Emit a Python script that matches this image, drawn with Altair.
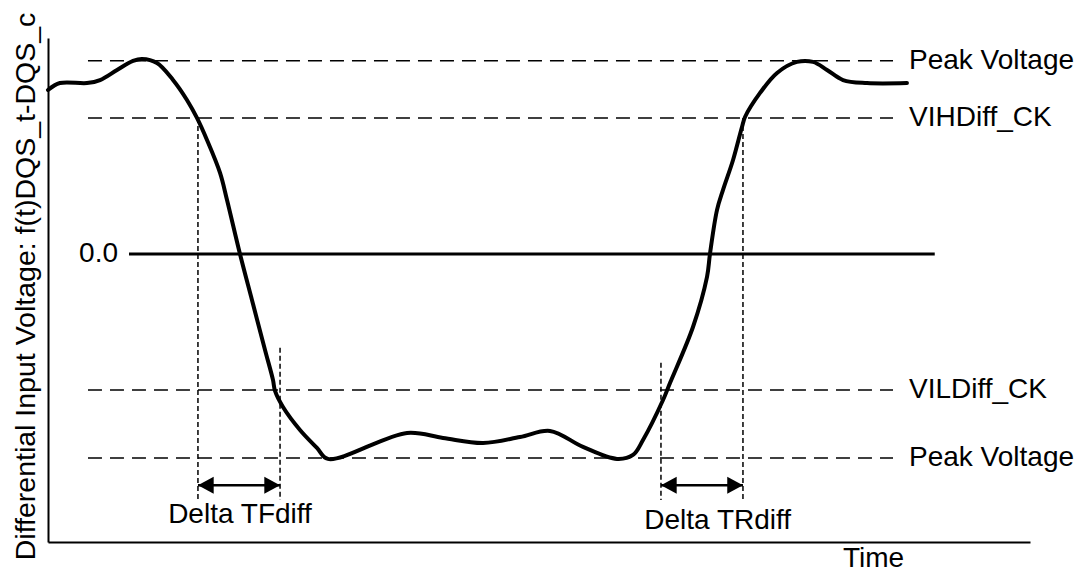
import altair as alt
import pandas as pd

# ---- data ----
wave_t = [0.0, 1.22, 3.97, 5.30, 7.03, 8.66, 9.57, 11.10, 12.73, 14.15, 15.17, 16.19,
          17.52, 18.23, 19.55, 20.77, 22.10, 22.91, 23.12, 23.93, 25.66, 27.39, 28.51,
          36.56, 40.22, 44.30, 48.07, 51.12, 54.48, 57.94, 59.57, 60.59, 62.63, 63.34,
          65.68, 67.11, 67.41, 68.13, 68.74, 69.76, 70.67, 70.98, 72.51, 74.24, 76.27,
          77.90, 79.33, 80.96, 83.40, 87.47]
wave_v = [1.206, 1.257, 1.257, 1.279, 1.353, 1.419, 1.434, 1.404, 1.279, 1.132, 1.0, 0.838,
          0.596, 0.397, 0.0, -0.338, -0.706, -0.926, -1.007, -1.125, -1.294, -1.426, -1.507,
          -1.316, -1.353, -1.390, -1.346, -1.301, -1.419, -1.507, -1.478, -1.368, -1.074, -0.949,
          -0.537, -0.169, 0.0, 0.324, 0.471, 0.691, 0.934, 1.007, 1.184, 1.331, 1.412,
          1.412, 1.353, 1.279, 1.257, 1.257]

level_names = ["Peak Voltage", "VIHDiff_CK", "VILDiff_CK", "Peak Voltage"]
level_v = [1.42, 1.0, -1.0, -1.5]
level_t_start = [4.07, 4.07, 4.07, 4.07]
level_t_end = [86.05, 86.05, 86.05, 86.05]

zero_t_start = [8.25]
zero_t_end = [90.3]
zero_v = [0.0]
zero_label = ["0.0"]

marker_t = [15.27, 23.63, 62.42, 70.77]
marker_top = [1.0, -0.69, -0.80, 1.0]
marker_bottom = [-1.81, -1.81, -1.81, -1.81]

arrow_start = [15.27, 62.42]
arrow_end = [23.63, 70.77]
arrow_v = [-1.70, -1.70]

delta_labels = ["Delta TFdiff", "Delta TRdiff"]
delta_t = [19.55, 68.2]
delta_v = [-1.92, -1.96]

X_DOMAIN = [0, 100]
Y_DOMAIN = [-2.118, 1.588]
FONT = "Liberation Sans"
FS = 28

wave = pd.DataFrame({"t": wave_t, "v": wave_v, "i": list(range(len(wave_t)))})
levels = pd.DataFrame({"name": level_names, "v": level_v, "t0": level_t_start, "t1": level_t_end})
zero = pd.DataFrame({"t0": zero_t_start, "t1": zero_t_end, "v": zero_v, "label": zero_label})
markers = pd.DataFrame({"t": marker_t, "top": marker_top, "bottom": marker_bottom})
arrows = pd.DataFrame({"t0": arrow_start, "t1": arrow_end, "v": arrow_v})
deltas = pd.DataFrame({"label": delta_labels, "t": delta_t, "v": delta_v})

xs = alt.Scale(domain=X_DOMAIN, nice=False, zero=False)
ys = alt.Scale(domain=Y_DOMAIN, nice=False, zero=False)

x_axis = alt.Axis(title="Time", labels=False, ticks=False, grid=False,
                  domainColor="black", domainWidth=2,
                  titleFont=FONT, titleFontSize=FS, titleFontWeight="normal", titleColor="black",
                  titleX=825, titleY=24, titleAlign="center", titleBaseline="alphabetic")
y_axis = alt.Axis(title="Differential Input Voltage: f(t)DQS_t-DQS_c", labels=False, ticks=False,
                  grid=False, domainColor="black", domainWidth=2,
                  titleFont=FONT, titleFontSize=28.5, titleFontWeight="normal", titleColor="black",
                  titleAngle=270, titleX=-14, titleY=248, titleAlign="center",
                  titleBaseline="alphabetic")


def X(field):
    return alt.X(field, scale=xs, axis=x_axis)


def Y(field):
    return alt.Y(field, scale=ys, axis=y_axis)


wave_layer = alt.Chart(wave).mark_line(color="black", strokeWidth=4, strokeCap="round",
                                       strokeJoin="round", interpolate="catmull-rom").encode(
    x=X("t:Q"), y=Y("v:Q"), order="i:Q",
)

level_layer = alt.Chart(levels).mark_rule(color="black", strokeWidth=1.5, strokeDash=[14, 8]).encode(
    x=X("t0:Q"), x2="t1:Q", y=Y("v:Q"),
)

level_text = alt.Chart(levels).mark_text(align="left", baseline="middle", dx=16, font=FONT,
                                         fontSize=FS, color="black").encode(
    x=X("t1:Q"), y=Y("v:Q"), text="name:N",
)

zero_layer = alt.Chart(zero).mark_rule(color="black", strokeWidth=3).encode(
    x=X("t0:Q"), x2="t1:Q", y=Y("v:Q"),
)

zero_text = alt.Chart(zero).mark_text(align="right", baseline="middle", dx=-11, font=FONT,
                                      fontSize=FS, color="black").encode(
    x=X("t0:Q"), y=Y("v:Q"), text="label:N",
)

marker_layer = alt.Chart(markers).mark_rule(color="black", strokeWidth=1.5, strokeDash=[5, 3]).encode(
    x=X("t:Q"), y=Y("top:Q"), y2="bottom:Q",
)

arrow_shaft = alt.Chart(arrows).mark_rule(color="black", strokeWidth=2.5).encode(
    x=X("t0:Q"), x2="t1:Q", y=Y("v:Q"),
)

head_left = alt.Chart(arrows).mark_point(shape="M0,0L1.85,-1L1.85,1Z", filled=True, size=289,
                                         color="black", opacity=1, strokeWidth=0).encode(
    x=X("t0:Q"), y=Y("v:Q"),
)

head_right = alt.Chart(arrows).mark_point(shape="M0,0L-1.85,-1L-1.85,1Z", filled=True, size=289,
                                          color="black", opacity=1, strokeWidth=0).encode(
    x=X("t1:Q"), y=Y("v:Q"),
)

delta_text = alt.Chart(deltas).mark_text(align="center", baseline="middle", font=FONT,
                                         fontSize=FS, color="black").encode(
    x=X("t:Q"), y=Y("v:Q"), text="label:N",
)

chart = alt.layer(
    wave_layer, level_layer, zero_layer, marker_layer, arrow_shaft, head_left, head_right,
    level_text, zero_text, delta_text,
).properties(
    width=982, height=504,
    autosize=alt.AutoSizeParams(type="none"),
    padding={"left": 40, "top": 30, "right": 48, "bottom": 30},
    background="white",
).configure_view(stroke=None)

chart.save("out.html", embed_options={"renderer": "svg", "actions": False})
